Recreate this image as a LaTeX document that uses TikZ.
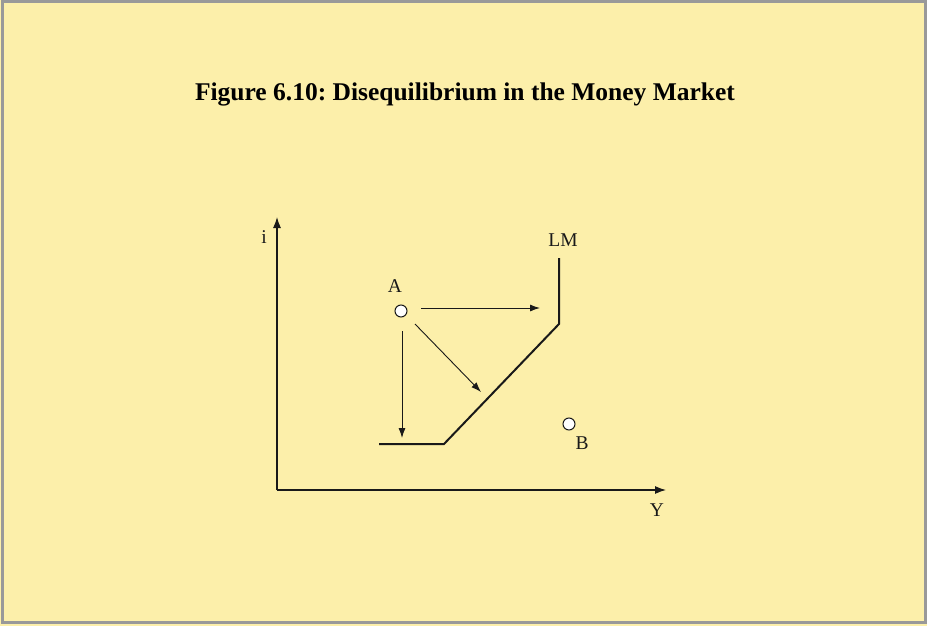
\documentclass[tikz,border=0pt]{standalone}
\usepackage{fontspec}
\setmainfont{Liberation Serif}
\usetikzlibrary{arrows.meta}
\definecolor{bg}{RGB}{252,239,170}
\definecolor{frame}{RGB}{153,153,153}
\definecolor{ink}{RGB}{25,25,25}
\frenchspacing
\begin{document}
\begin{tikzpicture}[x=1pt,y=-1pt,
  lbl/.style={inner sep=0pt,font=\fontsize{19.5}{19.5}\selectfont,text=ink},
  pt/.style={circle,draw=ink,fill=white,line width=1pt,minimum size=12pt,inner sep=0pt},
  arr/.style={draw=ink,line width=0.9pt,-{Latex[length=10pt,width=7pt]}},
  axis/.style={draw=ink,line width=1.2pt,-{Latex[length=11pt,width=8pt]}},
  curve/.style={draw=ink,line width=2pt}]
\useasboundingbox (0,0) rectangle (927,626);
\fill[bg] (0,0) rectangle (927,626);
\draw[frame,line width=3pt] (2,2) rectangle (925,622);
\node[inner sep=0pt,font=\fontsize{25.5}{25.5}\selectfont\bfseries] (title) at (465,94) {Figure 6.10: Disequilibrium in the Money Market};
% axes
\coordinate (O) at (277,490);
\coordinate (itop) at (277,217);
\coordinate (yend) at (666,490);
\draw[axis] (O) -- (itop);
\draw[axis] (O) -- (yend);
\node[lbl] (ilab) at (264,237) {i};
\node[lbl] (ylab) at (657,510) {Y};
% LM curve
\coordinate (lm1) at (379,444);
\coordinate (lm2) at (444,444);
\coordinate (lm3) at (559,324);
\coordinate (lm4) at (559,258);
\draw[curve] (lm1) -- (lm2) -- (lm3) -- (lm4);
\node[lbl] (lmlab) at (563,240) {LM};
% points
\node[pt] (A) at (401,311) {};
\node[lbl] (alab) at (395,286) {A};
\node[pt] (B) at (569,424) {};
\node[lbl] (blab) at (582,443) {B};
% arrows
\coordinate (rs) at (421,308);
\coordinate (ar) at (540,308);
\coordinate (ds) at (402,331);
\coordinate (ad) at (402,438);
\coordinate (gs) at (415,324);
\coordinate (ag) at (481,392);
\draw[arr] (rs) -- (ar);
\draw[arr] (ds) -- (ad);
\draw[arr] (gs) -- (ag);
\end{tikzpicture}
\end{document}
